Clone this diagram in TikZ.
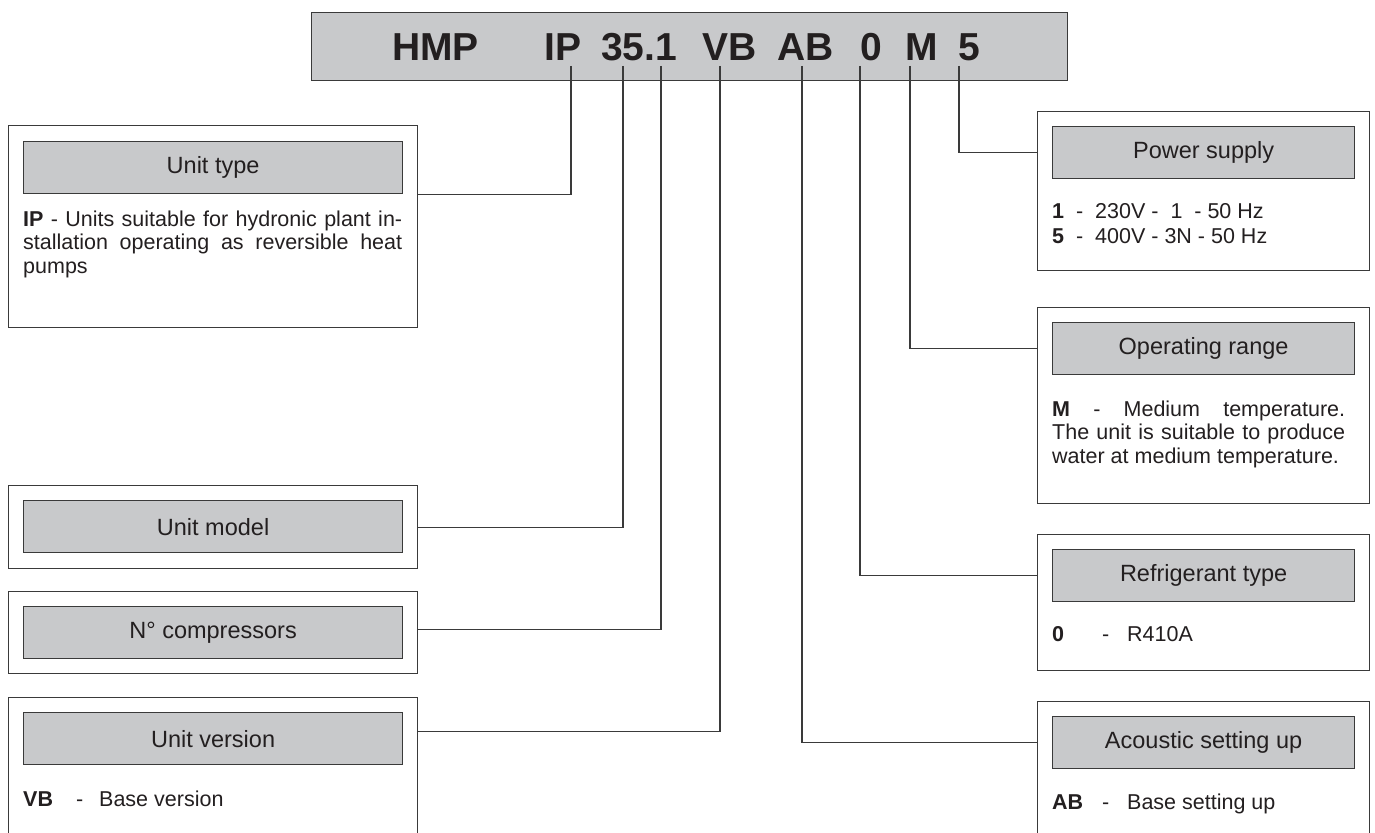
\documentclass[tikz,border=0pt]{standalone}
\usepackage{fontspec}
\setmainfont{Liberation Sans}
\usetikzlibrary{positioning,calc}
\definecolor{boxgray}{HTML}{C8C9CB}
\definecolor{linegray}{HTML}{3A3A3A}
\definecolor{inkblack}{HTML}{231F20}

\begin{document}
\begin{tikzpicture}[
  x=1pt, y=-1pt,
  panel/.style={draw=linegray, line width=1.2pt, fill=white, inner sep=0pt, anchor=north west},
  head/.style={draw=linegray, line width=1.2pt, fill=boxgray, inner sep=0pt,
    minimum height=52pt, text=inkblack, font=\fontsize{23.5}{26}\selectfont},
  lhead/.style={head, minimum width=379pt},
  rhead/.style={head, minimum width=302pt},
  body/.style={inner sep=0pt, anchor=north west, text=inkblack, align=justify,
    font=\fontsize{21.5}{23.5}\selectfont},
  code/.style={anchor=base west, inner sep=0pt, text=inkblack,
    font=\fontsize{39}{44}\selectfont\bfseries},
  link/.style={draw=linegray, line width=1.2pt},
]
  \useasboundingbox (0,0) rectangle (1375,832);
  \clip (0,0) rectangle (1375,832);

  % code bar
  \node[panel, fill=boxgray, minimum width=756pt, minimum height=68pt] (codebar) at (311,12) {};
  \node[code] (cHMP) at (392,61) {HMP};
  \node[code] (cIP)  at (544,61) {IP};
  \node[code] (cNum) at (601,61) {35.1};
  \node[code] (cVB)  at (702,61) {VB};
  \node[code] (cAB)  at (777,61) {AB};
  \node[code] (cRef) at (860,61) {0};
  \node[code] (cM)   at (905,61) {M};
  \node[code] (cPow) at (958,61) {5};

  \coordinate (pIP) at (571,66);
  \coordinate (p35) at (623,66);
  \coordinate (p1)  at (661,66);
  \coordinate (pVB) at (720,66);
  \coordinate (pAB) at (802,66);
  \coordinate (p0)  at (860,66);
  \coordinate (pM)  at (910,66);
  \coordinate (p5)  at (959,66);

  % left column
  \node[panel, minimum width=409pt, minimum height=202pt] (type) at (8,125) {};
  \node[lhead, below right=16pt and 15pt of type.north west] (typehead) {Unit type};
  \node[body, text width=379pt, below right=16.5pt and 0pt of typehead.south west] (typetext)
    {\textbf{IP} - Units suitable for hydronic plant in-\linebreak stallation operating as reversible heat\linebreak pumps};

  \node[panel, minimum width=409pt, minimum height=83pt] (model) at (8,485) {};
  \node[lhead, below right=15pt and 15pt of model.north west] (modelhead) {Unit model};

  \node[panel, minimum width=409pt, minimum height=82pt] (comp) at (8,591) {};
  \node[lhead, below right=15pt and 15pt of comp.north west] (comphead) {N° compressors};

  \node[panel, minimum width=409pt, minimum height=160pt] (vers) at (8,697) {};
  \node[lhead, below right=15pt and 15pt of vers.north west] (vershead) {Unit version};
  \node[body, text width=379pt, below right=25.5pt and 0pt of vershead.south west] (verstext)
    {\makebox[53pt][l]{\textbf{VB}}\makebox[23pt][l]{-}Base version};

  % right column
  \node[panel, minimum width=332pt, minimum height=159pt] (power) at (1037,111) {};
  \node[rhead, below right=15pt and 15pt of power.north west] (powerhead) {Power supply};
  \node[body, text width=293pt, below right=24.5pt and 0pt of powerhead.south west] (powertext)
    {\textbf{1}\ \ -\ \ 230V -\ \ 1\ \ - 50 Hz\\[1.5pt]
     \textbf{5}\ \ -\ \ 400V - 3N - 50 Hz};

  \node[panel, minimum width=332pt, minimum height=196pt] (oper) at (1037,307) {};
  \node[rhead, below right=15pt and 15pt of oper.north west] (operhead) {Operating range};
  \node[body, text width=293pt, below right=25.5pt and 0pt of operhead.south west] (opertext)
    {\textbf{M} - Medium temperature.\linebreak The unit is suitable to produce\linebreak water at medium temperature.};

  \node[panel, minimum width=332pt, minimum height=136pt] (refr) at (1037,534) {};
  \node[rhead, below right=15pt and 15pt of refr.north west] (refrhead) {Refrigerant type};
  \node[body, text width=293pt, below right=23.6pt and 0pt of refrhead.south west] (refrtext)
    {\makebox[50pt][l]{\textbf{0}}\makebox[25pt][l]{-}R410A};

  \node[panel, minimum width=332pt, minimum height=160pt] (acou) at (1037,701) {};
  \node[rhead, below right=15pt and 15pt of acou.north west] (acouhead) {Acoustic setting up};
  \node[body, text width=293pt, below right=24.6pt and 0pt of acouhead.south west] (acoutext)
    {\makebox[50pt][l]{\textbf{AB}}\makebox[25pt][l]{-}Base setting up};

  % connector levels
  \coordinate (vLevel) at ($(vershead.center)+(0pt,7pt)$);
  \coordinate (cLevel) at ($(comphead.center)+(0pt,3pt)$);

  % connectors
  \draw[link] (pIP) |- (type.east |- typehead.south);
  \draw[link] (p35) |- (model.east);
  \draw[link] (p1)  |- (comp.east |- cLevel);
  \draw[link] (pVB) |- (vers.east |- vLevel);
  \draw[link] (pAB) |- (acou.west |- acouhead.center);
  \draw[link] (p0)  |- (refr.west |- refrhead.center);
  \draw[link] (pM)  |- (oper.west |- operhead.center);
  \draw[link] (p5)  |- (power.west |- powerhead.center);
\end{tikzpicture}
\end{document}
